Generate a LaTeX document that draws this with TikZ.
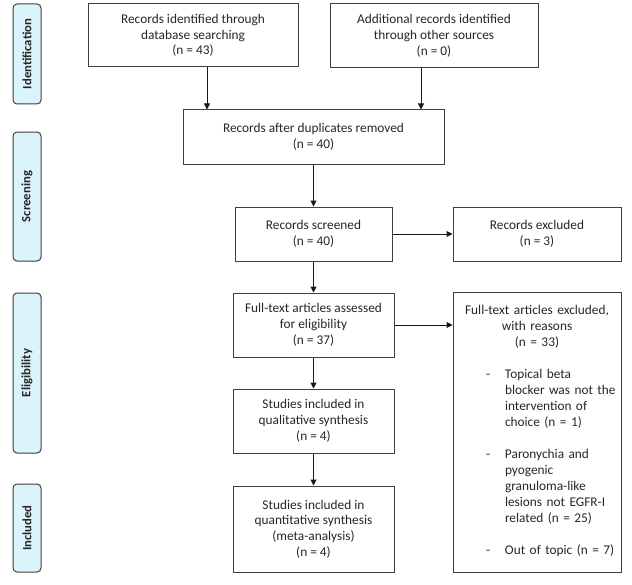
\documentclass[tikz,border=0pt]{standalone}
\usepackage{fontspec}
\setmainfont{Carlito}
\usetikzlibrary{arrows.meta,calc}
\definecolor{stagefill}{HTML}{DBF3FA}
\definecolor{linegray}{HTML}{3F3F3F}

\begin{document}
\begin{tikzpicture}[x=0.75pt,y=-0.75pt,
  box/.style={rectangle,draw=linegray,line width=0.75pt,inner sep=3pt,align=center,font=\fontsize{10}{11.8}\selectfont,text=black!85},
  stage/.style={rectangle,rounded corners=3pt,draw=linegray,fill=stagefill,line width=0.75pt,minimum height=21pt,inner sep=0pt,rotate=90,font=\fontsize{9.5}{11}\selectfont\bfseries,text=black!85},
  arrow/.style={-{Triangle[length=4.5pt,width=4.5pt]},line width=0.75pt,draw=black!90}]

  \useasboundingbox (0,0) rectangle (632,585);

  % stage labels on the left
  \node(identif)[stage,minimum width=75pt]   at (27,54)    {Identification};
  \node(screen) [stage,minimum width=96.75pt] at (27,196.5) {Screening};
  \node(elig)   [stage,minimum width=120pt]  at (27,373)   {Eligibility};
  \node(incl)   [stage,minimum width=66pt]   at (27,528)   {Included};

  % flow boxes
  \node(dbsearch)[box,minimum width=157.5pt,minimum height=47.25pt] at (193,35.5)
    {Records identified through\\ database searching\\ (n = 43)};
  \node(othersrc)[box,minimum width=156pt,minimum height=48pt] at (434,36)
    {Additional records identified\\ through other sources\\ (n = 0)};
  \node(dedup)[box,minimum width=195.75pt,minimum height=40.5pt] at (313.5,137)
    {Records after duplicates removed\\ (n = 40)};
  \node(screened)[box,minimum width=117.75pt,minimum height=40.5pt] at (313.5,234)
    {Records screened\\ (n = 40)};
  \node(recexcl)[box,minimum width=126pt,minimum height=40.5pt] at (537,234)
    {Records excluded\\ (n = 3)};
  \node(fulltext)[box,minimum width=120.75pt,minimum height=48pt] at (313.5,325)
    {Full-text articles assessed\\ for eligibility\\ (n = 37)};
  \node(qualit)[box,minimum width=120.75pt,minimum height=48pt] at (313.5,421)
    {Studies included in\\ qualitative synthesis\\ (n = 4)};
  \node(quantit)[box,minimum width=120.75pt,minimum height=64.5pt] at (313.5,529)
    {Studies included in\\ quantitative synthesis\\ (meta-analysis)\\ (n = 4)};
  \node(ftexcl)[box,text width=120pt,minimum height=210pt,font=\fontsize{10}{12}\selectfont] at (537,432)
    {Full-text articles excluded,\\ with reasons\\ (n = 33)\\[12pt]
     \makebox[120pt][l]{\hspace{21.75pt}\begin{tabular}[t]{@{}p{14.25pt}@{}l@{}}
       - & Topical beta\\
         & blocker was not the\\
         & intervention of\\
         & choice (n = 1)\\[12pt]
       - & Paronychia and\\
         & pyogenic\\
         & granuloma-like\\
         & lesions not EGFR-I\\
         & related (n = 25)\\[12pt]
       - & Out of topic (n = 7)
     \end{tabular}}};

  % connectors
  \coordinate(dbout)    at ($(dbsearch.south)+(14,0)$);
  \coordinate(otherout) at ($(othersrc.south)+(-13,0)$);
  \draw[arrow] (dbout) -- (dbout |- dedup.north);
  \draw[arrow] (otherout) -- (otherout |- dedup.north);
  \draw[arrow] (dedup.south) -- (screened.north);
  \draw[arrow] (screened.east) -- (recexcl.west);
  \draw[arrow] (screened.south) -- (fulltext.north);
  \draw[arrow] (fulltext.east) -- (fulltext.east -| ftexcl.west);
  \draw[arrow] (fulltext.south) -- (qualit.north);
  \draw[arrow] (qualit.south) -- (quantit.north);
\end{tikzpicture}
\end{document}
